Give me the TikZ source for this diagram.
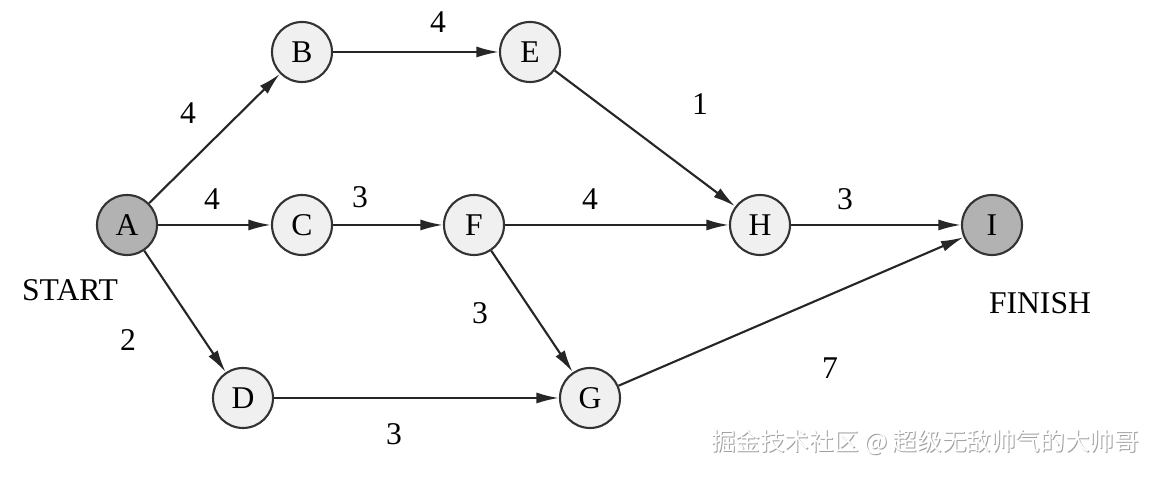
\documentclass[tikz,border=0pt]{standalone}
\usepackage{fontspec}
\setmainfont{Liberation Serif}
\newfontfamily\cjk{Noto Sans CJK SC}
\usetikzlibrary{arrows.meta}

\begin{document}
\begin{tikzpicture}[
  every node/.style={font=\fontsize{18}{21}\selectfont},
  vrchol/.style={circle, draw=black!80, line width=1.2pt, fill=gray!12, minimum size=1.2cm, inner sep=0pt},
  krajni/.style={vrchol, fill=gray!60},
  hrana/.style={line width=1.2pt, draw=black!85, -{Latex[length=4.5mm,width=2.2mm]}}
]
  \useasboundingbox (0,0) rectangle (23.2,-9.54);

  % vrcholy
  \node[krajni] (A) at (2.54,-4.5) {A};
  \node[vrchol] (B) at (6.04,-1.04) {B};
  \node[vrchol] (E) at (10.6,-1.04) {E};
  \node[vrchol] (C) at (6.04,-4.5) {C};
  \node[vrchol] (F) at (9.48,-4.5) {F};
  \node[vrchol] (H) at (15.2,-4.5) {H};
  \node[krajni] (I) at (19.84,-4.5) {I};
  \node[vrchol] (D) at (4.86,-7.96) {D};
  \node[vrchol] (G) at (11.8,-7.96) {G};

  % hrany
  \draw[hrana] (A) -- (B);
  \draw[hrana] (A) -- (C);
  \draw[hrana] (A) -- (D);
  \draw[hrana] (B) -- (E);
  \draw[hrana] (E) -- (H);
  \draw[hrana] (C) -- (F);
  \draw[hrana] (F) -- (H);
  \draw[hrana] (F) -- (G);
  \draw[hrana] (H) -- (I);
  \draw[hrana] (D) -- (G);
  \draw[hrana] (G) -- (I);

  % délky hran
  \node (wAB) at (3.76,-2.26) {4};
  \node (wAC) at (4.24,-3.98) {4};
  \node (wAD) at (2.56,-6.8) {2};
  \node (wBE) at (8.76,-0.44) {4};
  \node (wEH) at (14.0,-2.08) {1};
  \node (wCF) at (7.2,-3.94) {3};
  \node (wFH) at (11.8,-3.98) {4};
  \node (wFG) at (9.6,-6.26) {3};
  \node (wHI) at (16.9,-3.98) {3};
  \node (wDG) at (7.88,-8.68) {3};
  \node (wGI) at (16.6,-7.36) {7};

  % popisky
  \node (start) at (1.4,-5.8) {START};
  \node (finish) at (20.8,-6.06) {FINISH};

  % vodoznak
  \node[text=gray!75, font=\cjk\fontsize{14}{16}\selectfont] at (18.52,-8.86) {掘金技术社区 @ 超级无敌帅气的大帅哥};
  \node[text=white, font=\cjk\fontsize{14}{16}\selectfont] (znak) at (18.5,-8.84) {掘金技术社区 @ 超级无敌帅气的大帅哥};
\end{tikzpicture}
\end{document}
